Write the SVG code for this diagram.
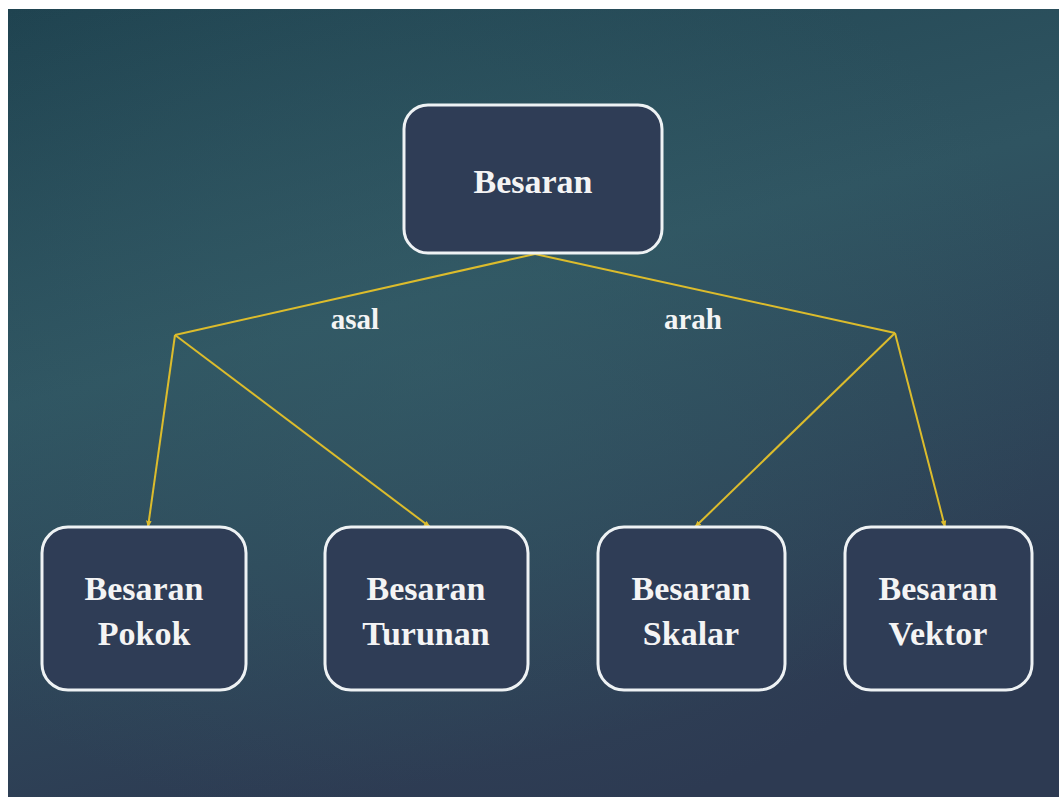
<svg xmlns="http://www.w3.org/2000/svg" width="1059" height="797" viewBox="0 0 1059 797">
<defs>
<linearGradient id="bg" x1="0" y1="0" x2="0.35" y2="1">
<stop offset="0" stop-color="#1f4350"/>
<stop offset="0.45" stop-color="#2f5461"/>
<stop offset="1" stop-color="#2d3a52"/>
</linearGradient>
<radialGradient id="glow" cx="0.4" cy="0.45" r="0.6">
<stop offset="0" stop-color="#36606a" stop-opacity="0.5"/>
<stop offset="1" stop-color="#36606a" stop-opacity="0"/>
</radialGradient>
<marker id="ah" viewBox="0 0 10 10" refX="9" refY="5" markerWidth="7" markerHeight="7" orient="auto" markerUnits="userSpaceOnUse">
<path d="M0,1 L10,5 L0,9 z" fill="#dcbc2c"/>
</marker>
</defs>
<style>
.box{fill:#2f3d56;stroke:#eef2f4;stroke-width:3}
.t{font-family:"Liberation Serif","DejaVu Serif",serif;font-weight:bold;fill:#f4f4f4;text-anchor:middle;font-size:34px}
.l{font-family:"Liberation Serif","DejaVu Serif",serif;font-weight:bold;fill:#f4f4f4;text-anchor:middle;font-size:29px}
.c{stroke:#dcbc2c;stroke-width:2;fill:none}
</style>
<rect x="0" y="0" width="1059" height="797" fill="#ffffff"/>
<rect x="8" y="9" width="1051" height="788" fill="url(#bg)"/>
<rect x="8" y="9" width="1051" height="788" fill="url(#glow)"/>
<g id="connectors">
<line class="c" x1="535" y1="254" x2="175" y2="335"/>
<line class="c" x1="535" y1="254" x2="895" y2="333"/>
<line class="c" x1="175" y1="335" x2="148" y2="527" marker-end="url(#ah)"/>
<line class="c" x1="175" y1="335" x2="430" y2="527" marker-end="url(#ah)"/>
<line class="c" x1="895" y1="333" x2="695" y2="527" marker-end="url(#ah)"/>
<line class="c" x1="895" y1="333" x2="945" y2="527" marker-end="url(#ah)"/>
<text class="l" x="355" y="329">asal</text>
<text class="l" x="693" y="329">arah</text>
</g>
<g id="besaran">
<rect class="box" x="404" y="105" width="258" height="148" rx="24"/>
<text class="t" x="533" y="193">Besaran</text>
</g>
<g id="pokok">
<rect class="box" x="42" y="527" width="204" height="163" rx="26"/>
<text class="t" x="144" y="600">Besaran</text>
<text class="t" x="144" y="645">Pokok</text>
</g>
<g id="turunan">
<rect class="box" x="325" y="527" width="203" height="163" rx="26"/>
<text class="t" x="426" y="600">Besaran</text>
<text class="t" x="426" y="645">Turunan</text>
</g>
<g id="skalar">
<rect class="box" x="598" y="527" width="187" height="163" rx="26"/>
<text class="t" x="691" y="600">Besaran</text>
<text class="t" x="691" y="645">Skalar</text>
</g>
<g id="vektor">
<rect class="box" x="845" y="527" width="187" height="163" rx="26"/>
<text class="t" x="938" y="600">Besaran</text>
<text class="t" x="938" y="645">Vektor</text>
</g>
</svg>
